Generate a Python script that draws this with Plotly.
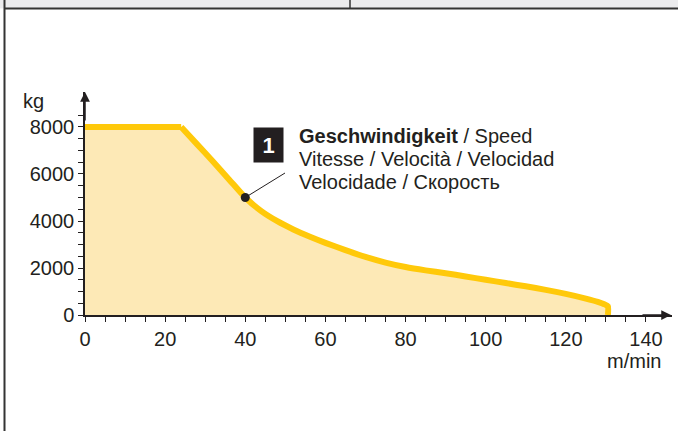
import plotly.graph_objects as go

# Data
speed_m_min = [0, 24, 28, 32, 36, 40, 44, 48, 52, 56, 60, 65, 70, 75, 80, 85, 90, 95, 100, 105, 110, 115, 120, 125, 128, 129.6, 130.5, 130.5]
load_kg = [8000, 8000, 7260, 6520, 5760, 5000, 4420, 3990, 3640, 3340, 3070, 2760, 2470, 2230, 2040, 1900, 1780, 1640, 1500, 1360, 1220, 1070, 900, 700, 560, 460, 370, 0]
x_ticks = [0, 20, 40, 60, 80, 100, 120, 140]
y_ticks = [0, 2000, 4000, 6000, 8000]
x_minor = [v for v in range(5, 140, 5) if v % 20 != 0]
y_minor = [v for v in range(500, 9000, 500) if v % 2000 != 0]
marker_speed = [40]
marker_load = [5000]
label_lines = ["<b>Geschwindigkeit</b> / Speed", "Vitesse / Velocità / Velocidad", "Velocidade / Скорость"]
badge_text = "1"

W, H = 678, 431
L, R, T, B = 85, 6, 92, 116
X_MAX, Y_MAX = 146.5, 9489
pw, ph = W - L - R, H - T - B

def px_x(p):  # pixel -> paper x
    return (p - L) / pw

def px_y(p):  # pixel -> paper y
    return (H - B - p) / ph

INK = "#231f20"
YEL = "#ffc90a"
FONT = "Liberation Sans, Arial, Helvetica, sans-serif"
FS = 20
FS_LABEL = 20

fig = go.Figure()
# filled area
fig.add_trace(go.Scatter(
    x=speed_m_min, y=load_kg, mode="lines", line=dict(width=0, color=YEL),
    fill="tozeroy", fillcolor="#fde9b6", hoverinfo="skip", showlegend=False,
))
# flat part of the curve (sharp corner at the knee)
fig.add_trace(go.Scatter(
    x=speed_m_min[:2], y=load_kg[:2], mode="lines",
    line=dict(color=YEL, width=6), hoverinfo="skip", showlegend=False,
))
# falling part, smoothed
fig.add_trace(go.Scatter(
    x=speed_m_min[1:], y=load_kg[1:], mode="lines",
    line=dict(color=YEL, width=6, shape="spline", smoothing=0.6),
    hoverinfo="skip", showlegend=False,
))
fig.add_trace(go.Scatter(
    x=marker_speed, y=marker_load, mode="markers",
    marker=dict(color=INK, size=9), showlegend=False, hoverinfo="skip",
))

axis_common = dict(
    showgrid=False, zeroline=False, showline=True, linecolor=INK, linewidth=1.5,
    ticks="outside", ticklen=5, tickwidth=1, tickcolor=INK,
    tickfont=dict(family=FONT, size=FS, color=INK),
)
fig.update_xaxes(range=[0, X_MAX], tickvals=x_ticks,
                 minor=dict(tickvals=x_minor, ticks="outside", ticklen=5, tickcolor=INK),
                 **axis_common)
fig.update_yaxes(range=[0, Y_MAX], tickvals=y_ticks,
                 minor=dict(tickvals=y_minor, ticks="outside", ticklen=5, tickcolor=INK),
                 **axis_common)

shapes = [
    # top grey band
    dict(type="rect", xref="paper", yref="paper", x0=px_x(0), x1=px_x(W), y0=px_y(0), y1=px_y(8.5),
         fillcolor="#ebebed", line=dict(width=0), layer="below"),
    dict(type="line", xref="paper", yref="paper", x0=px_x(4), x1=px_x(W), y0=px_y(8.5), y1=px_y(8.5),
         line=dict(color="#333333", width=2)),
    dict(type="line", xref="paper", yref="paper", x0=px_x(350), x1=px_x(350), y0=px_y(0), y1=px_y(8.5),
         line=dict(color="#333333", width=1.5)),
    dict(type="line", xref="paper", yref="paper", x0=px_x(4.5), x1=px_x(4.5), y0=px_y(0), y1=px_y(H),
         line=dict(color="#333333", width=2)),
    # leader line from marker to label
    dict(type="line", xref="x", yref="y", x0=marker_speed[0], y0=marker_load[0],
         x1=(285 - L) / pw * X_MAX, y1=(H - B - 173) / ph * Y_MAX,
         line=dict(color=INK, width=1)),
]

annotations = [
    # axis arrows
    dict(xref="paper", yref="paper", x=px_x(671), y=0, ax=-30, ay=0, showarrow=True,
         arrowhead=2, arrowsize=1.3, arrowwidth=1.5, arrowcolor=INK, text=""),
    dict(xref="paper", yref="paper", x=0, y=px_y(92), ax=0, ay=30, showarrow=True,
         arrowhead=2, arrowsize=1.3, arrowwidth=1.5, arrowcolor=INK, text=""),
    # axis titles
    dict(xref="paper", yref="paper", x=px_x(21), y=px_y(101), xanchor="left", yanchor="middle",
         text="kg", showarrow=False, font=dict(family=FONT, size=FS, color=INK)),
    dict(xref="paper", yref="paper", x=px_x(663), y=px_y(361), xanchor="right", yanchor="middle",
         text="m/min", showarrow=False, font=dict(family=FONT, size=FS, color=INK)),
    # badge
    dict(xref="paper", yref="paper", x=px_x(268.5), y=px_y(145), xanchor="center", yanchor="middle",
         text="<b>" + badge_text + "</b>", showarrow=False, bgcolor=INK, width=27, height=32,
         font=dict(family=FONT, size=22, color="white")),
]
for i, line in enumerate(label_lines):
    annotations.append(dict(xref="paper", yref="paper", x=px_x(297), y=px_y(135.5 + 23 * i),
                            xanchor="left", yanchor="middle", text=line, showarrow=False,
                            font=dict(family=FONT, size=FS_LABEL, color=INK)))

fig.update_layout(
    width=W, height=H, margin=dict(l=L, r=R, t=T, b=B),
    plot_bgcolor="white", paper_bgcolor="white",
    shapes=shapes, annotations=annotations,
)
fig.write_html("out.html", config={"displayModeBar": False},
               post_script="document.body.style.margin='0';document.body.style.padding='0';"
                           "document.body.style.overflow='hidden';")
